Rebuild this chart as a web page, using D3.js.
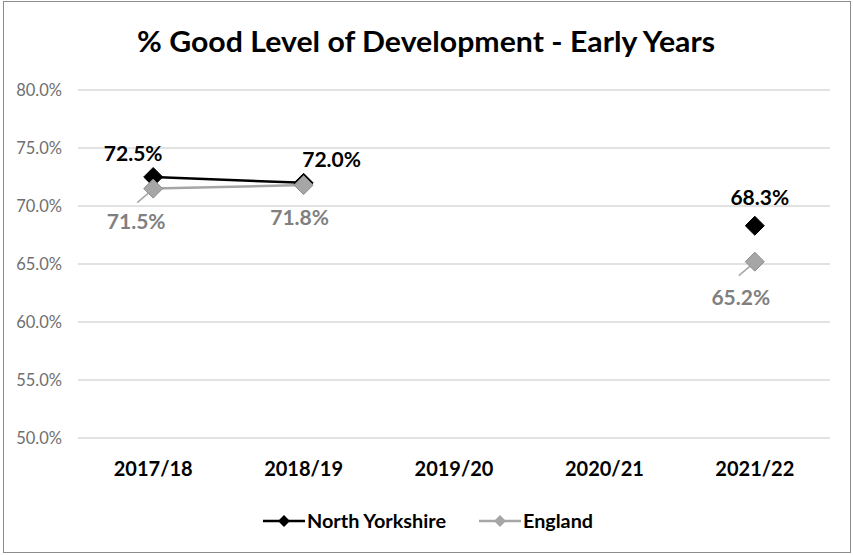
<!DOCTYPE html>
<html>
<head>
<meta charset="utf-8">
<script src="https://cdn.jsdelivr.net/npm/d3@7"></script>
<style>
  body { margin: 0; background: #fff; }
  text { font-family: Lato, "Open Sans", sans-serif; }
</style>
</head>
<body>
<script>
var categories = ["2017/18", "2018/19", "2019/20", "2020/21", "2021/22"];
var northYorkshire = [72.5, 72.0, null, null, 68.3];
var england = [71.5, 71.8, null, null, 65.2];
var yTicks = [50, 55, 60, 65, 70, 75, 80];

// label nudges (dx, dy to baseline) relative to each marker, as Excel placed them
var nyLabelOff = [[-20, -16], [28, -16], null, null, [5, -21]];
var engLabelOff = [[-17, 40], [-4, 40], null, null, [-14, 43]];

var w = 853, h = 555;
var svg = d3.select("body").append("svg").attr("width", w).attr("height", h);

svg.append("rect").attr("x", 3.5).attr("y", 1.5).attr("width", 847).attr("height", 551)
  .attr("fill", "#fff").attr("stroke", "#8c8c8c").attr("stroke-width", 1);

var x = d3.scaleBand().domain(categories).range([78, 830]);
var y = d3.scaleLinear().domain([50, 80]).range([438, 90]);
function cx(c) { return x(c) + x.bandwidth() / 2; }

svg.append("text").attr("x", 426).attr("y", 52).attr("text-anchor", "middle")
  .attr("font-size", "29px").attr("font-weight", "bold").attr("fill", "#000")
  .attr("textLength", 578).attr("lengthAdjust", "spacingAndGlyphs")
  .text("% Good Level of Development - Early Years");

// gridlines
svg.selectAll("line.grid").data(yTicks).enter().append("line")
  .attr("class", "grid")
  .attr("x1", 78).attr("x2", 830)
  .attr("y1", function(d) { return y(d); }).attr("y2", function(d) { return y(d); })
  .attr("stroke", "#d9d9d9").attr("stroke-width", 1.5);

var yAxis = svg.append("g").attr("transform", "translate(65,0)")
  .call(d3.axisLeft(y).tickValues(yTicks).tickSize(0).tickFormat(function(d) { return d.toFixed(1) + "%"; }));
yAxis.select(".domain").remove();
yAxis.selectAll("text").attr("font-family", "Lato, sans-serif").attr("font-size", "16.5px").attr("fill", "#6f6f6f");

var xAxis = svg.append("g").attr("transform", "translate(0,459)")
  .call(d3.axisBottom(x).tickSize(0));
xAxis.select(".domain").remove();
xAxis.selectAll("text").attr("font-family", "Lato, sans-serif").attr("font-size", "20px")
  .attr("font-weight", "bold").attr("fill", "#000");

function pts(vals) {
  return categories.map(function(c, i) { return { c: c, v: vals[i], i: i }; });
}
var line = d3.line()
  .defined(function(d) { return d.v !== null; })
  .x(function(d) { return cx(d.c); })
  .y(function(d) { return y(d.v); });

var diamond = d3.symbol().type(d3.symbolDiamond2).size(230);

function drawSeries(vals, lineCol, fill, stroke) {
  var data = pts(vals);
  svg.append("path").datum(data).attr("d", line)
    .attr("fill", "none").attr("stroke", lineCol).attr("stroke-width", 2.5);
  svg.selectAll(null).data(data.filter(function(d) { return d.v !== null; })).enter()
    .append("path").attr("d", diamond)
    .attr("transform", function(d) { return "translate(" + cx(d.c) + "," + y(d.v) + ")"; })
    .attr("fill", fill).attr("stroke", stroke).attr("stroke-width", 1);
}

drawSeries(northYorkshire, "#000", "#000", "#000");

// leader lines for England labels
var leaders = [0, 4];
svg.selectAll(null).data(leaders).enter().append("line")
  .attr("x1", function(i) { return cx(categories[i]) - 3; })
  .attr("y1", function(i) { return y(england[i]) + 3; })
  .attr("x2", function(i) { return cx(categories[i]) - 16; })
  .attr("y2", function(i) { return y(england[i]) + 14; })
  .attr("stroke", "#a6a6a6").attr("stroke-width", 1.5);

drawSeries(england, "#a6a6a6", "#a6a6a6", "#8c8c8c");

function labels(vals, offs, col) {
  svg.selectAll(null).data(pts(vals).filter(function(d) { return d.v !== null; })).enter()
    .append("text")
    .attr("x", function(d) { return cx(d.c) + offs[d.i][0]; })
    .attr("y", function(d) { return y(d.v) + offs[d.i][1]; })
    .attr("text-anchor", "middle").attr("font-size", "21px").attr("font-weight", "bold")
    .attr("fill", col)
    .text(function(d) { return d.v.toFixed(1) + "%"; });
}
labels(northYorkshire, nyLabelOff, "#000");
labels(england, engLabelOff, "#808080");

// legend
var leg = [
  { name: "North Yorkshire", col: "#000", x: 263, tl: 139 },
  { name: "England", col: "#a6a6a6", x: 479, tl: 70 }
];
var lg = svg.selectAll(null).data(leg).enter().append("g")
  .attr("transform", function(d) { return "translate(" + d.x + ",521)"; });
lg.append("line").attr("x1", 0).attr("x2", 42).attr("stroke", function(d) { return d.col; }).attr("stroke-width", 2.5);
lg.append("path").attr("d", d3.symbol().type(d3.symbolDiamond2).size(90))
  .attr("transform", "translate(21,0)").attr("fill", function(d) { return d.col; });
lg.append("text").attr("x", 44).attr("y", 7).attr("font-size", "19px").attr("font-weight", "bold")
  .attr("textLength", function(d) { return d.tl; }).attr("lengthAdjust", "spacingAndGlyphs")
  .attr("fill", "#000").text(function(d) { return d.name; });
</script>
</body>
</html>
